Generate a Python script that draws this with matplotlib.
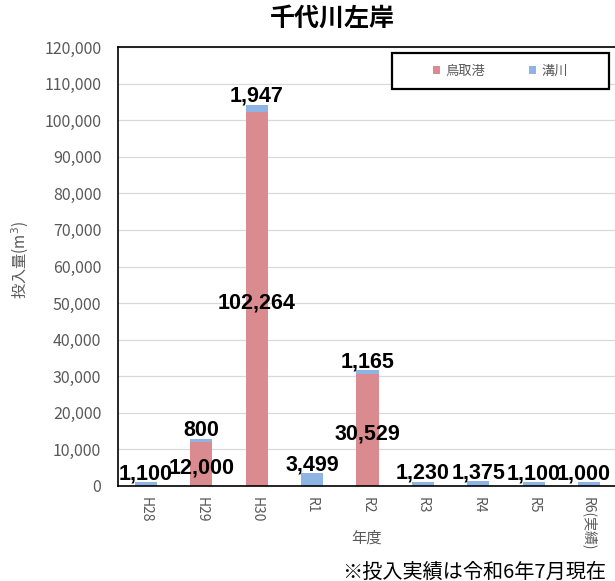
import numpy as np
import matplotlib.pyplot as plt
from matplotlib.patches import Rectangle

plt.rcParams['font.family'] = ['Noto Sans CJK JP', 'DejaVu Sans']

years = ['H28', 'H29', 'H30', 'R1', 'R2', 'R3', 'R4', 'R5', 'R6(実績)']
tottori = [0, 12000, 102264, 0, 30529, 0, 0, 0, 0]      # 鳥取港
mizokawa = [1100, 800, 1947, 3499, 1165, 1230, 1375, 1100, 1000]  # 溝川

red = '#DA8B8F'
blue = '#8DB4E2'
gray = '#595959'

fig = plt.figure(figsize=(6.15, 5.81), dpi=100)
ax = fig.add_axes([118/615, 95/581, 499/615, 439/581])

x = np.arange(len(years))
ax.bar(x, tottori, width=0.4, color=red, label='鳥取港', zorder=2)
ax.bar(x, mizokawa, width=0.4, bottom=tottori, color=blue, label='溝川', zorder=2)

ax.set_xlim(-0.5, len(years) - 0.5)
ax.set_ylim(0, 120000)
ax.set_yticks(np.arange(0, 120001, 10000))
ax.set_yticklabels([f'{v:,}' for v in range(0, 120001, 10000)], color=gray, fontsize=11.5)
ax.set_xticks(x)
ax.set_xticklabels(years, rotation=-90, color=gray, fontsize=10, va='top')
ax.tick_params(axis='y', length=0, pad=12)
ax.tick_params(axis='x', length=0, pad=8)
ax.grid(axis='y', color='#D9D9D9', lw=0.9, zorder=0)
for s in ['left', 'bottom', 'top']:
    ax.spines[s].set_color('black')
    ax.spines[s].set_linewidth(1.2)
ax.spines['right'].set_visible(False)

# value labels: 鳥取港 centred in its bar, 溝川 just above the stack
lbl = dict(fontsize=15.5, fontweight='bold', color='black',
           family=['Liberation Sans', 'DejaVu Sans'], textcoords='offset points')
for i in x:
    if tottori[i] > 0:
        ax.annotate(f'{tottori[i]:,}', (i, tottori[i] / 2), xytext=(0, -7),
                    ha='center', va='baseline', **lbl)
    dx = -4 if i == len(years) - 1 else 0   # last one would run off the right edge
    ax.annotate(f'{mizokawa[i]:,}', (i, tottori[i] + mizokawa[i]), xytext=(dx, 2),
                ha='center', va='baseline', **lbl)

ax.set_ylabel('投入量(m$^3$)', color=gray, fontsize=11)
ax.yaxis.set_label_coords(-0.174, 0.515)
ax.set_xlabel('年度', color=gray, fontsize=11)
ax.xaxis.set_label_coords(0.497, -0.10)

# legend: boxed, entries centred in a wide frame
box = Rectangle((274/499, 397/439), 217/499, 36/439, transform=ax.transAxes,
                facecolor='white', edgecolor='black', lw=1.6, zorder=4)
ax.add_patch(box)
leg = ax.legend(loc='center', bbox_to_anchor=(382.5/499, 415/439), ncol=2, fontsize=9.5,
                frameon=False, handlelength=0.55, handleheight=0.55,
                columnspacing=3.3, handletextpad=0.4)
leg.set_zorder(5)
for t in leg.get_texts():
    t.set_color(gray)

fig.text(0.541, 0.968, '千代川左岸', ha='center', va='center', fontsize=18, fontweight='bold')
fig.text(342/615, 1 - 572/581, '※投入実績は令和6年7月現在', ha='left', va='center', fontsize=14.5)

fig.savefig('out.png', dpi=100)
